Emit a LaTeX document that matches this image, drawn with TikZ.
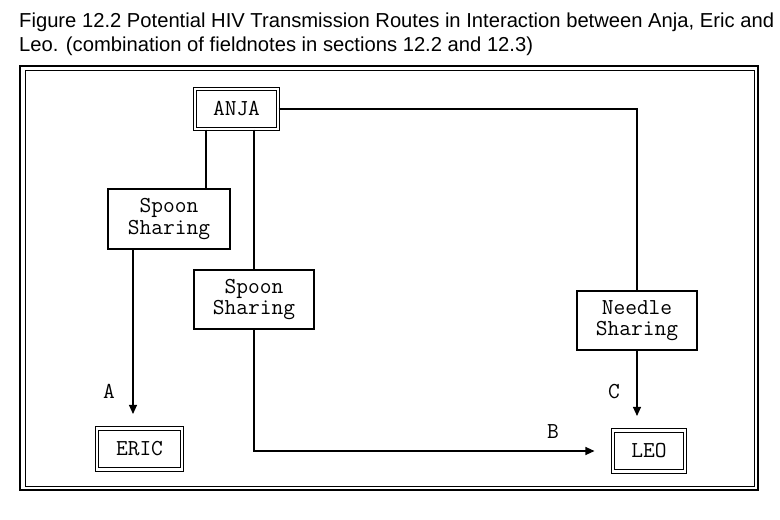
\documentclass[tikz,border=0pt]{standalone}
\usepackage{fontspec}
\setmainfont{Liberation Sans}
\usetikzlibrary{arrows.meta}
\tikzset{
    person/.style={draw, double, double distance=2.4pt, line width=1.1pt, font=\ttfamily\fontsize{22.8}{21}\selectfont, inner sep=0pt},
    share/.style={draw, line width=1.1pt, align=center, font=\ttfamily\fontsize{22.8}{21.5}\selectfont, inner sep=0pt},
    edge/.style={-, line width=1.1pt, draw=black},
    route/.style={->, > = {Triangle[length=9pt,width=8pt]}, line width=1.1pt, draw=black},
    routelabel/.style={font=\ttfamily\fontsize{22.8}{21}\selectfont, inner sep=0pt},
    caption/.style={anchor=base west, inner sep=0pt, font=\fontsize{20.2}{24}\selectfont},
}

\begin{document}
\begin{tikzpicture}[x=1pt, y=-1pt]
    \useasboundingbox (0,0) rectangle (780,520);
    % caption
    \node[caption] (cap1) at (19,27) {Figure 12.2 Potential HIV Transmission Routes in Interaction between Anja, Eric and};
    \node[caption] (cap2) at (19,51) {Leo. (combination of fieldnotes in sections 12.2 and 12.3)};
    % frame
    \draw[line width=2pt] (20,66) rectangle (758,490);
    \draw[line width=1pt] (25,70) rectangle (754,486);
    % people
    \node[person, minimum width=83pt, minimum height=40pt] (anja) at (236.5,109) {ANJA};
    \node[person, minimum width=85pt, minimum height=41pt] (eric) at (139.5,449) {ERIC};
    \node[person, minimum width=72pt, minimum height=41pt] (leo) at (649,451) {LEO};
    % sharing boxes
    \node[share, minimum width=122pt, minimum height=60pt] (spoon1) at (169,219) {Spoon\\Sharing};
    \node[share, minimum width=120pt, minimum height=59pt] (spoon2) at (254,299.5) {Spoon\\Sharing};
    \node[share, minimum width=120pt, minimum height=59pt] (needle) at (637,320.5) {Needle\\Sharing};
    % anja to the boxes
    \draw[edge] ([xshift=-30.5pt]anja.south) -- ([xshift=-30.5pt]anja.south |- spoon1.north);
    \draw[edge] (anja.south -| spoon2.north) -- (spoon2.north);
    \draw[edge] (anja.east) -- (anja.east -| needle.north) -- (needle.north);
    % routes
    \draw[route, shorten >=14pt] ([xshift=-36pt]spoon1.south) -- ([xshift=-36pt]spoon1.south |- eric.north);
    \draw[route, shorten >=18pt] (spoon2.south) -- (spoon2.south |- leo.west) -- (leo.west);
    \draw[route, shorten >=14pt] (needle.south) -- (needle.south |- leo.north);
    \node[routelabel] (a) at (109,391) {A};
    \node[routelabel] (b) at (553,432) {B};
    \node[routelabel] (c) at (614,392) {C};
\end{tikzpicture}
\end{document}
